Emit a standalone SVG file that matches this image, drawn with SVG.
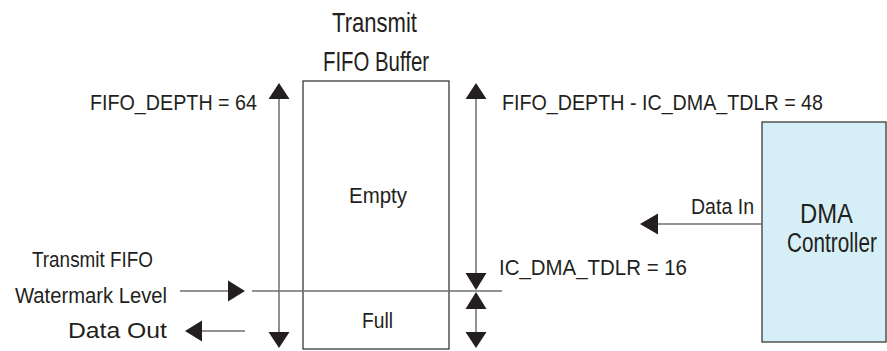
<svg xmlns="http://www.w3.org/2000/svg" width="887" height="351" viewBox="0 0 887 351">
<style>
text{font-family:"Liberation Sans Narrow","Liberation Sans",Arial,sans-serif;fill:#231f20}
.t{font-size:28px}
.l{font-size:22px}
.ln{stroke:#6d6e71;stroke-width:1.5;fill:none}
.ah{fill:#231f20}
.box{stroke:#3a3a3a;stroke-width:1.3}
</style>
<rect width="887" height="351" fill="#ffffff"/>
<g id="fifo">
<rect class="box" x="303" y="81" width="146" height="268" fill="#ffffff"/>
<text class="t" x="332" y="32" textLength="85" lengthAdjust="spacingAndGlyphs">Transmit</text>
<text class="t" x="323" y="71" textLength="106" lengthAdjust="spacingAndGlyphs">FIFO Buffer</text>
<text class="l" x="349" y="203" textLength="58" lengthAdjust="spacingAndGlyphs">Empty</text>
<text class="l" x="362" y="328" textLength="31" lengthAdjust="spacingAndGlyphs">Full</text>
</g>
<g id="dma">
<rect class="box" x="762" y="122" width="124" height="220" fill="#d6eef5"/>
<text class="t" x="800" y="223" textLength="53" lengthAdjust="spacingAndGlyphs">DMA</text>
<text class="t" transform="translate(787,252) scale(0.74,1)" x="0" y="0">Controller</text>
</g>
<g id="connectors">
<line class="ln" x1="279" y1="97" x2="279" y2="334"/>
<polygon class="ah" points="279,83 289.5,99 268.5,99"/>
<polygon class="ah" points="279,348 289.5,332 268.5,332"/>
<line class="ln" x1="476" y1="97" x2="476" y2="275"/>
<line class="ln" x1="476" y1="308" x2="476" y2="334"/>
<polygon class="ah" points="476,83 486.5,99 465.5,99"/>
<polygon class="ah" points="476,290 486.5,273 465.5,273"/>
<polygon class="ah" points="476,292 486.5,309 465.5,309"/>
<polygon class="ah" points="476,348 486.5,332 465.5,332"/>
<line class="ln" x1="252" y1="291" x2="502" y2="291"/>
<line class="ln" x1="180" y1="291" x2="230" y2="291"/>
<polygon class="ah" points="245,291 228,280.5 228,301.5"/>
<line class="ln" x1="200" y1="331" x2="245" y2="331"/>
<polygon class="ah" points="185,331 202,320.5 202,341.5"/>
<line class="ln" x1="656" y1="224" x2="762" y2="224"/>
<polygon class="ah" points="640,224 658,213.5 658,234.5"/>
</g>
<g id="labels">
<text class="l" x="90" y="110" textLength="167" lengthAdjust="spacingAndGlyphs">FIFO_DEPTH = 64</text>
<text class="l" x="502" y="110" textLength="321" lengthAdjust="spacingAndGlyphs">FIFO_DEPTH - IC_DMA_TDLR = 48</text>
<text class="l" x="499" y="275" textLength="188" lengthAdjust="spacingAndGlyphs">IC_DMA_TDLR = 16</text>
<text class="l" x="691" y="214" textLength="63" lengthAdjust="spacingAndGlyphs">Data In</text>
<text class="l" x="32" y="267" textLength="121" lengthAdjust="spacingAndGlyphs">Transmit FIFO</text>
<text class="l" x="15" y="303" textLength="152" lengthAdjust="spacingAndGlyphs">Watermark Level</text>
<text class="l" x="68" y="338" textLength="99" lengthAdjust="spacingAndGlyphs">Data Out</text>
</g>
</svg>
